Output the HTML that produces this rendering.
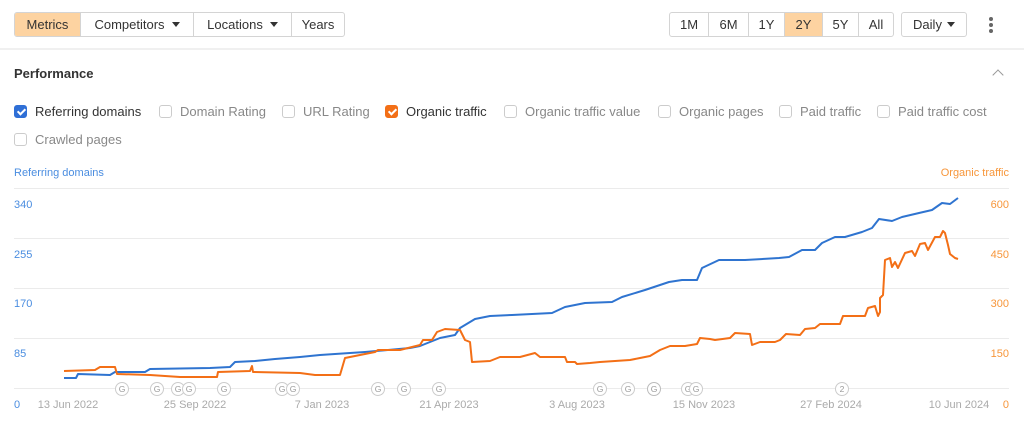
<!DOCTYPE html>
<html><head><meta charset="utf-8"><style>
*{box-sizing:border-box;margin:0;padding:0}
body{width:1024px;height:423px;background:#fff;font-family:"Liberation Sans",Arial,sans-serif;color:#333;position:relative;overflow:hidden}
.bg{position:absolute;top:12px;height:25px;display:flex;border:1px solid #d4d4d4;border-radius:3px;overflow:hidden}
.bg div{height:23px;line-height:23px;font-size:13px;text-align:center;border-right:1px solid #d4d4d4;color:#333}
.bg div:last-child{border-right:none}
.on{background:#fdd3a1}
.car{display:inline-block;width:0;height:0;border-left:4px solid transparent;border-right:4px solid transparent;border-top:5px solid #333;margin-left:7px;vertical-align:2px}
.sep{position:absolute;top:48px;left:0;width:1024px;height:2px;background:#f0f0f0}
.cb{position:absolute;font-size:13px;color:#888;display:flex;align-items:center}
.cb i{display:inline-block;width:13px;height:13px;border:1px solid #ccc;border-radius:3px;margin-right:8px}
.cb.k{color:#333}
.cb i.b{background:#2f6fd6;border-color:#2f6fd6}
.cb i.o{background:#f36f16;border-color:#f36f16}
.cb i.b:after,.cb i.o:after{content:"";display:block;width:3px;height:6px;border:solid #fff;border-width:0 2px 2px 0;transform:rotate(45deg);margin:1px 0 0 4px}
</style></head><body>
<div class="bg" style="left:14px"><div class="on" style="width:66px">Metrics</div><div style="width:113px">Competitors<span class="car"></span></div><div style="width:98px">Locations<span class="car"></span></div><div style="width:52px">Years</div></div>
<div class="bg" style="left:669px"><div style="width:39px">1M</div><div style="width:40px">6M</div><div style="width:36px">1Y</div><div class="on" style="width:38px">2Y</div><div style="width:36px">5Y</div><div style="width:34px">All</div></div>
<div class="bg" style="left:901px"><div style="width:64px">Daily<span class="car" style="margin-left:5px"></span></div></div>
<div style="position:absolute;left:989px;top:17px;width:4px">
<div style="width:4px;height:4px;border-radius:2px;background:#666;margin-bottom:2px"></div><div style="width:4px;height:4px;border-radius:2px;background:#666;margin-bottom:2px"></div><div style="width:4px;height:4px;border-radius:2px;background:#666"></div></div>
<div class="sep"></div>
<div style="position:absolute;left:14px;top:66px;font-size:13px;font-weight:bold;color:#333">Performance</div>
<div style="position:absolute;left:994px;top:71px;width:8px;height:8px;border-left:1.5px solid #999;border-top:1.5px solid #999;transform:rotate(45deg)"></div>
<div class="cb k" style="left:14px;top:104px"><i class="b"></i>Referring domains</div>
<div class="cb" style="left:159px;top:104px"><i></i>Domain Rating</div>
<div class="cb" style="left:282px;top:104px"><i></i>URL Rating</div>
<div class="cb k" style="left:385px;top:104px"><i class="o"></i>Organic traffic</div>
<div class="cb" style="left:504px;top:104px"><i></i>Organic traffic value</div>
<div class="cb" style="left:658px;top:104px"><i></i>Organic pages</div>
<div class="cb" style="left:779px;top:104px"><i></i>Paid traffic</div>
<div class="cb" style="left:877px;top:104px"><i></i>Paid traffic cost</div>
<div class="cb" style="left:14px;top:132px"><i></i>Crawled pages</div>
<svg width="1024" height="423" style="position:absolute;left:0;top:0" font-family="Liberation Sans, Arial, sans-serif">
<g stroke="#ebebeb" stroke-width="1">
<line x1="14" x2="1009" y1="188.5" y2="188.5"/><line x1="14" x2="1009" y1="238.5" y2="238.5"/><line x1="14" x2="1009" y1="288.5" y2="288.5"/><line x1="14" x2="1009" y1="338.5" y2="338.5"/><line x1="14" x2="1009" y1="388.5" y2="388.5"/>
</g>
<g font-size="11" fill="#4a8de0">
<text x="14" y="176">Referring domains</text>
<text x="14" y="208">340</text><text x="14" y="258">255</text><text x="14" y="307">170</text><text x="14" y="357">85</text><text x="14" y="408">0</text>
</g>
<g font-size="11" fill="#f7963a" text-anchor="end">
<text x="1009" y="176">Organic traffic</text>
<text x="1009" y="208">600</text><text x="1009" y="258">450</text><text x="1009" y="307">300</text><text x="1009" y="357">150</text><text x="1009" y="408">0</text>
</g>
<g font-size="11" fill="#aaa" text-anchor="middle">
<text x="68" y="408">13 Jun 2022</text><text x="195" y="408">25 Sep 2022</text><text x="322" y="408">7 Jan 2023</text><text x="449" y="408">21 Apr 2023</text><text x="577" y="408">3 Aug 2023</text><text x="704" y="408">15 Nov 2023</text><text x="831" y="408">27 Feb 2024</text><text x="959" y="408">10 Jun 2024</text>
</g>
<polyline fill="none" stroke="#2f74d0" stroke-width="2" stroke-linejoin="round" points="64,378 76,378 78,374 110,375 115,372 145,372 150,369 210,368 230,367 235,362 255,361 275,359 300,357 320,355 365,352 410,348 420,346 440,338 455,335 460,328 475,319 490,316 512,315 552,313 565,307 585,303 612,302 622,297 645,290 669,282 682,280 697,280 702,268 719,260 745,260 779,258 789,257 802,250 815,250 822,243 835,237 845,237 862,232 872,228 879,219 892,221 902,217 919,213 932,210 942,203 950,204 958,198" />
<polyline fill="none" stroke="#f36f16" stroke-width="2" stroke-linejoin="round" points="64,371 95,370 100,367 115,367 117,374 150,375 180,377 217,377 218,372 250,371 252,366 253,372 300,373 315,375 340,375 345,358 375,352 378,350 400,350 420,345 423,340 432,340 437,332 445,329 460,330 465,340 470,342 472,362 490,361 500,357 520,357 535,353 540,357 565,357 567,362 575,362 577,364 590,363 600,362 630,360 640,358 650,356 660,350 670,346 685,346 697,344 700,338 710,339 715,340 730,338 735,333 750,334 752,345 760,342 775,342 780,340 786,334 800,335 805,329 815,328 820,324 840,324 843,316 865,316 868,308 875,306 878,316 880,312 880,298 883,295 885,260 890,258 892,267 895,262 898,268 905,253 912,251 915,256 920,244 925,243 928,250 935,237 940,237 943,231 945,233 948,245 950,254 955,258 958,259" />
<g font-size="8.5" fill="#999" text-anchor="middle">
<circle cx="122" cy="389" r="6.5" fill="#fff" stroke="#ccc"/><text x="122" y="392">G</text>
<circle cx="157" cy="389" r="6.5" fill="#fff" stroke="#ccc"/><text x="157" y="392">G</text>
<circle cx="178" cy="389" r="6.5" fill="#fff" stroke="#ccc"/><text x="178" y="392">G</text>
<circle cx="189" cy="389" r="6.5" fill="#fff" stroke="#ccc"/><text x="189" y="392">G</text>
<circle cx="224" cy="389" r="6.5" fill="#fff" stroke="#ccc"/><text x="224" y="392">G</text>
<circle cx="282" cy="389" r="6.5" fill="#fff" stroke="#ccc"/><text x="282" y="392">G</text>
<circle cx="293" cy="389" r="6.5" fill="#fff" stroke="#ccc"/><text x="293" y="392">G</text>
<circle cx="378" cy="389" r="6.5" fill="#fff" stroke="#ccc"/><text x="378" y="392">G</text>
<circle cx="404" cy="389" r="6.5" fill="#fff" stroke="#ccc"/><text x="404" y="392">G</text>
<circle cx="439" cy="389" r="6.5" fill="#fff" stroke="#ccc"/><text x="439" y="392">G</text>
<circle cx="600" cy="389" r="6.5" fill="#fff" stroke="#ccc"/><text x="600" y="392">G</text>
<circle cx="628" cy="389" r="6.5" fill="#fff" stroke="#ccc"/><text x="628" y="392">G</text>
<circle cx="654" cy="389" r="6.5" fill="#fff" stroke="#bbb"/><text x="654" y="392">G</text>
<circle cx="688" cy="389" r="6.5" fill="#fff" stroke="#ccc"/><text x="688" y="392">G</text>
<circle cx="696" cy="389" r="6.5" fill="#fff" stroke="#ccc"/><text x="696" y="392">G</text>
<circle cx="842" cy="389" r="6.5" fill="#fff" stroke="#ccc"/><text x="842" y="392">2</text>
</g>
</svg>
</body></html>
